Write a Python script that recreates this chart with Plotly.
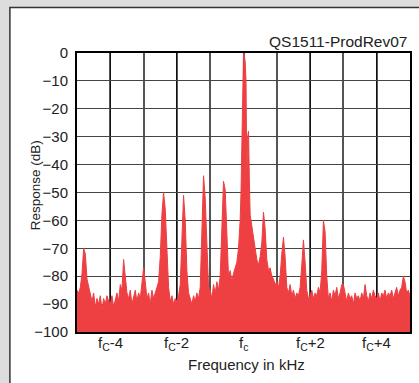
import plotly.graph_objects as go

# Frequency offsets from fc (kHz), step 0.05 (center refined below)
base_freq_khz = [round(-5 + 0.05 * i, 2) for i in range(201)]

base_response_db = [
    # -5.00 .. -4.05
    -85, -86, -84, -79, -70, -72, -81, -84, -87, -89, -86, -91, -88, -90, -87, -92, -88, -90, -87, -89,
    # -4.00 .. -3.05
    -90, -87, -91, -88, -86, -89, -83, -85, -74, -80, -86, -88, -85, -90, -87, -85, -89, -86, -88, -83,
    # -3.00 .. -2.05
    -77, -82, -88, -86, -90, -85, -88, -86, -84, -82, -73, -58, -50, -56, -70, -84, -89, -87, -90, -88,
    # -2.00 .. -1.05
    -89, -87, -83, -66, -51, -60, -78, -86, -88, -90, -87, -89, -86, -88, -84, -66, -44, -52, -72, -84,
    # -1.00 .. -0.05
    -85, -88, -83, -86, -82, -85, -80, -63, -46, -49, -67, -80, -78, -82, -79, -77, -75, -70, -60, -32,
    # 0.00 .. 0.95
    0, -3, -45, -28, -58, -62, -66, -70, -74, -76, -73, -68, -57, -63, -74, -78, -77, -80, -81, -83,
    # 1.00 .. 1.95
    -82, -84, -80, -72, -66, -73, -84, -86, -83, -87, -85, -88, -86, -87, -84, -76, -67, -75, -85, -88,
    # 2.00 .. 2.95
    -87, -85, -88, -86, -87, -84, -86, -78, -60, -64, -80, -88, -86, -89, -85, -87, -84, -88, -86, -83,
    # 3.00 .. 3.95
    -83, -86, -89, -86, -88, -87, -90, -86, -88, -87, -89, -86, -88, -83, -87, -89, -86, -88, -85, -87,
    # 4.00 .. 5.00
    -88, -86, -89, -86, -87, -85, -88, -86, -87, -85, -88, -86, -84, -87, -85, -84, -80, -82, -86, -85, -87,
]

# Extra samples around the carrier
center_freq_khz = [-0.075, -0.025, 0.025, 0.075, 0.125, 0.175]
center_response_db = [-50, -14, -1, -10, -30, -45]

RED = "#ee3f42"
FONT = "Liberation Sans, Arial, Helvetica, sans-serif"

x_tickvals = [-4, -2, 0, 2, 4]
x_ticktext = ["f<sub>C</sub>-4", "f<sub>C</sub>-2", "f<sub>c</sub>", "f<sub>C</sub>+2", "f<sub>C</sub>+4"]
y_tickvals = [0, -10, -20, -30, -40, -50, -60, -70, -80, -90, -100]
y_ticktext = ["0" if v == 0 else "\u2212" + str(-v) for v in y_tickvals]

pairs = sorted(list(zip(base_freq_khz, base_response_db)) + list(zip(center_freq_khz, center_response_db)))
xs = [p[0] for p in pairs]
ys = [p[1] for p in pairs]

fig = go.Figure()
fig.add_trace(go.Scatter(x=[-5, 5], y=[-100, -100], mode="lines",
                         line=dict(width=0, color=RED), hoverinfo="skip", showlegend=False))
fig.add_trace(go.Scatter(x=xs, y=ys, mode="lines", fill="tonexty",
                         fillcolor=RED, line=dict(color=RED, width=1), showlegend=False))

L, R, T, B = 77, 7, 53, 51
W, H = 419, 383
pw, ph = W - L - R, H - T - B

def px2x(px):
    return (px - L) / pw

def py2y(py):
    return (H - B - py) / ph

annotations = [
    dict(text="QS1511-ProdRev07", xref="paper", yref="paper",
         x=px2x(411), y=py2y(41), xanchor="right", yanchor="middle",
         showarrow=False, font=dict(size=15.5, family=FONT, color="#222222")),
    dict(text="Response (dB)", xref="paper", yref="paper",
         x=px2x(35), y=py2y(185), xanchor="center", yanchor="middle",
         textangle=-90, showarrow=False, font=dict(size=13.5, family=FONT, color="#222222")),
    dict(text="Frequency in kHz", xref="paper", yref="paper",
         x=px2x(248), y=py2y(364), xanchor="center", yanchor="middle",
         showarrow=False, font=dict(size=15, family=FONT, color="#222222")),
]
for v, t in zip(x_tickvals, x_ticktext):
    annotations.append(dict(text=t, xref="x", yref="paper", x=v, y=py2y(343),
                            xanchor="center", yanchor="middle", showarrow=False,
                            font=dict(size=15, family=FONT, color="#222222")))

fig.update_layout(
    width=W, height=H,
    margin=dict(l=L, r=R, t=T, b=B, pad=0),
    paper_bgcolor="#dddddd",
    plot_bgcolor="white",
    font=dict(family=FONT, size=13, color="#222222"),
    shapes=[dict(type="rect", xref="paper", yref="paper",
                 x0=px2x(9.5), x1=px2x(440), y0=py2y(420), y1=py2y(7.5),
                 fillcolor="white", line=dict(color="#333333", width=1.5), layer="below")],
    annotations=annotations,
)

fig.update_xaxes(
    range=[-5, 5], tickvals=x_tickvals, showticklabels=False,
    ticks="", showgrid=True, gridcolor="#111111", gridwidth=1,
    minor=dict(dtick=1, tick0=0, showgrid=True, gridcolor="#555555", gridwidth=1.5, ticks=""),
    showline=True, linecolor="black", linewidth=2, mirror=True,
    zeroline=False,
)
fig.update_yaxes(
    range=[-100, 0], tickvals=y_tickvals, ticktext=y_ticktext,
    ticks="", showgrid=True, gridcolor="#444444", gridwidth=1.3,
    showline=True, linecolor="black", linewidth=2, mirror=True,
    zeroline=False, tickfont=dict(size=15, color="#222222"), ticklabelstandoff=4,
)

fig.write_html("out.html")
